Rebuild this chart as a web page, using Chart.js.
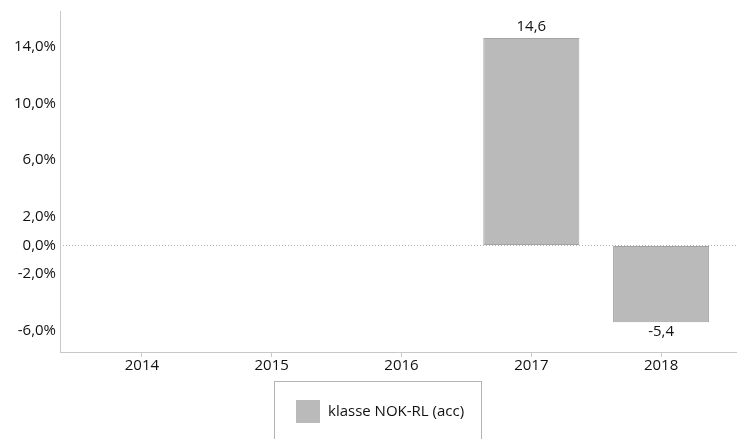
<!DOCTYPE html>
<html><head><meta charset="utf-8">
<script src="https://cdn.jsdelivr.net/npm/chart.js@4.4.0/dist/chart.umd.min.js"></script>
<style>html,body{margin:0;padding:0;background:#fff}#wrap{width:737px;height:439px;position:relative}</style>
</head><body><div id="wrap"><canvas id="c" width="737" height="439"></canvas></div>
<script>
const categories = ["2014","2015","2016","2017","2018"];
const seriesLabel = "klasse NOK-RL (acc)";
const values = [null, null, null, 14.6, -5.4];
const yTicks = [14, 10, 6, 2, 0, -2, -6];
const yMin = -7.5, yMax = 16.5;

const FONT = "'Open Sans', 'Noto Sans', sans-serif";
const fmt = (v, d) => v.toFixed(d).replace('.', ',');

const decor = {
  id: 'decor',
  beforeDatasetsDraw(chart) {
    const {ctx, chartArea} = chart;
    const y = chart.scales.y;
    const y0 = y.getPixelForValue(0);
    const leftX = chartArea.left - 17;
    ctx.save();
    ctx.strokeStyle = '#b0b0b0';
    ctx.lineWidth = 1;
    ctx.setLineDash([1, 2]);
    ctx.beginPath();
    ctx.moveTo(leftX, Math.round(y0) + 0.5);
    ctx.lineTo(chart.width, Math.round(y0) + 0.5);
    ctx.stroke();
    ctx.setLineDash([]);
    ctx.strokeStyle = '#c8c8c8';
    ctx.beginPath();
    ctx.moveTo(leftX + 0.5, chartArea.top);
    ctx.lineTo(leftX + 0.5, chartArea.bottom + 1);
    ctx.moveTo(leftX, chartArea.bottom + 0.5);
    ctx.lineTo(chart.width, chartArea.bottom + 0.5);
    ctx.stroke();
    ctx.restore();
  },
  afterDatasetsDraw(chart) {
    const {ctx} = chart;
    const meta = chart.getDatasetMeta(0);
    const ds = chart.data.datasets[0];
    ctx.save();
    ctx.font = '15px ' + FONT;
    ctx.fillStyle = '#111';
    ctx.textAlign = 'center';
    meta.data.forEach((bar, i) => {
      const v = ds.data[i];
      if (v === null || v === undefined) return;
      if (v >= 0) {
        ctx.textBaseline = 'bottom';
        ctx.fillText(fmt(v, 1), bar.x, bar.y - 4);
      } else {
        ctx.textBaseline = 'top';
        ctx.fillText(fmt(v, 1), bar.x, bar.y + 2);
      }
    });
    const bx = 274.5, by = 381.5, bw = 207, bh = 70;
    ctx.strokeStyle = '#b4b4b4';
    ctx.lineWidth = 1;
    ctx.strokeRect(bx, by, bw, bh);
    ctx.fillStyle = ds.backgroundColor;
    ctx.fillRect(296, 400, 24, 23);
    ctx.fillStyle = '#111';
    ctx.textAlign = 'left';
    ctx.textBaseline = 'middle';
    ctx.font = '15px ' + FONT;
    ctx.fillText(ds.label, 328, 411.5);
    ctx.restore();
  }
};

new Chart(document.getElementById('c'), {
  type: 'bar',
  data: {
    labels: categories,
    datasets: [{
      label: seriesLabel,
      data: values,
      backgroundColor: '#bababa',
      borderColor: '#a3a3a3',
      borderWidth: 1,
      borderSkipped: false,
      categoryPercentage: 0.74,
      barPercentage: 1.0
    }]
  },
  options: {
    responsive: false,
    animation: false,
    layout: {padding: {top: 0, right: 11, left: 0, bottom: 0}},
    plugins: {legend: {display: false}, tooltip: {enabled: false}},
    scales: {
      x: {
        offset: true,
        border: {display: false},
        grid: {display: true, drawOnChartArea: false, drawTicks: true, tickLength: 5, offset: false, color: '#c8c8c8'},
        ticks: {color: '#111', font: {family: FONT, size: 15}, padding: 0, maxRotation: 0},
        afterFit(s) { s.height = 87; }
      },
      y: {
        min: yMin, max: yMax,
        border: {display: false},
        grid: {display: true, drawOnChartArea: false, drawTicks: true, tickLength: 19, color: 'rgba(0,0,0,0)'},
        afterBuildTicks(s) { s.ticks = yTicks.map(v => ({value: v})); },
        ticks: {color: '#111', font: {family: FONT, size: 15}, padding: 2,
          callback: v => fmt(v, 1) + '%'},
        afterFit(s) { s.width = 77; }
      }
    }
  },
  plugins: [decor]
});
</script></body></html>
